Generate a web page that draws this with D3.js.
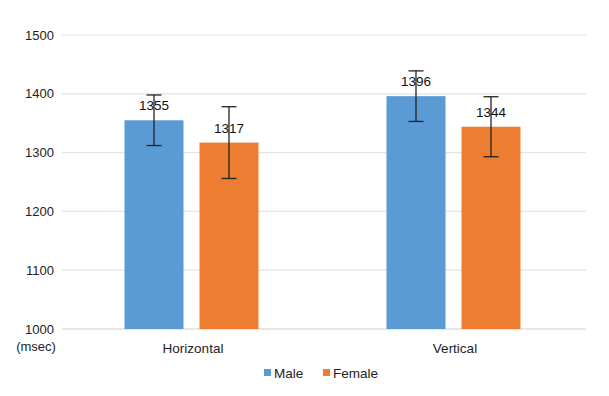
<!DOCTYPE html>
<html>
<head>
<meta charset="utf-8">
<script src="https://cdn.jsdelivr.net/npm/d3@7"></script>
<style>
  body { margin: 0; background: #fff; }
  text { font-family: "Liberation Sans", Arial, sans-serif; }
</style>
</head>
<body>
<svg id="vis"></svg>
<script>
const categories = ['Horizontal', 'Vertical'];
const seriesNames = ['Male', 'Female'];
const maleValues = [1355, 1396];
const femaleValues = [1317, 1344];
const maleErrors = [43, 43];
const femaleErrors = [61, 51];
const yTicks = [1000, 1100, 1200, 1300, 1400, 1500];

const COLOURS = ['#5b9bd5', '#ed7d31'];

const width = 609, height = 396;
const svg = d3.select('#vis').attr('width', width).attr('height', height);

const x0 = d3.scaleBand().domain(categories).range([62, 586]).paddingInner(0).paddingOuter(0);
// bars sit in the middle of each category band
const x1 = d3.scaleBand().domain(seriesNames).range([62.5, 196.5]).paddingInner(16 / 75).paddingOuter(0);
const y = d3.scaleLinear().domain([1000, 1500]).range([329, 35]);

// grid lines
svg.append('g').selectAll('line').data(yTicks).enter().append('line')
    .attr('x1', 62).attr('x2', 586)
    .attr('y1', d => y(d)).attr('y2', d => y(d))
    .attr('stroke', d => d == 1000 ? '#d0d0d0' : '#e3e3e3').attr('stroke-width', 1.2);

// y axis labels
const yAxis = d3.axisLeft(y).tickValues(yTicks).tickSize(0).tickPadding(0).tickFormat(d3.format('d'));
const ya = svg.append('g').attr('transform', 'translate(54,0)').call(yAxis);
ya.select('.domain').remove();
ya.selectAll('text').attr('font-size', 13).attr('fill', '#222')
    .style('font-family', '"Liberation Sans", Arial, sans-serif');

svg.append('text').attr('x', 36).attr('y', 351).attr('text-anchor', 'middle')
    .attr('font-size', 13).attr('fill', '#222').text('(msec)');

const rows = [];
for (var i = 0; i < categories.length; i++) {
    rows.push({cat: categories[i], s: 'Male', v: maleValues[i], e: maleErrors[i]});
    rows.push({cat: categories[i], s: 'Female', v: femaleValues[i], e: femaleErrors[i]});
}

const bx = d => x0(d.cat) + x1(d.s);
const cx = d => bx(d) + x1.bandwidth() / 2;

// bars
svg.append('g').selectAll('rect').data(rows).enter().append('rect')
    .attr('x', bx).attr('width', x1.bandwidth())
    .attr('y', d => y(d.v)).attr('height', d => y(1000) - y(d.v))
    .attr('fill', d => COLOURS[seriesNames.indexOf(d.s)]);

// value labels
svg.append('g').selectAll('text').data(rows).enter().append('text')
    .attr('x', cx).attr('y', d => y(d.v) - 10)
    .attr('text-anchor', 'middle').attr('font-size', 13.5).attr('fill', '#111')
    .text(d => d.v);

// error bars
const eg = svg.append('g').attr('stroke', '#222').attr('stroke-width', 1.3);
rows.forEach(d => {
    var c = cx(d);
    eg.append('line').attr('x1', c).attr('x2', c).attr('y1', y(d.v + d.e)).attr('y2', y(d.v - d.e));
    eg.append('line').attr('x1', c - 7.5).attr('x2', c + 7.5).attr('y1', y(d.v + d.e)).attr('y2', y(d.v + d.e));
    eg.append('line').attr('x1', c - 7.5).attr('x2', c + 7.5).attr('y1', y(d.v - d.e)).attr('y2', y(d.v - d.e));
});

// category labels
svg.append('g').selectAll('text').data(categories).enter().append('text')
    .attr('x', d => x0(d) + x0.bandwidth() / 2).attr('y', 353)
    .attr('text-anchor', 'middle').attr('font-size', 13.5).attr('fill', '#222')
    .text(d => d);

// legend
const legendX = [264, 323];
const lg = svg.append('g');
seriesNames.forEach((s, i) => {
    lg.append('rect').attr('x', legendX[i]).attr('y', 369).attr('width', 7).attr('height', 7)
        .attr('fill', COLOURS[i]);
    lg.append('text').attr('x', legendX[i] + 10).attr('y', 378).attr('font-size', 13.5)
        .attr('fill', '#222').text(s);
});
</script>
</body>
</html>
